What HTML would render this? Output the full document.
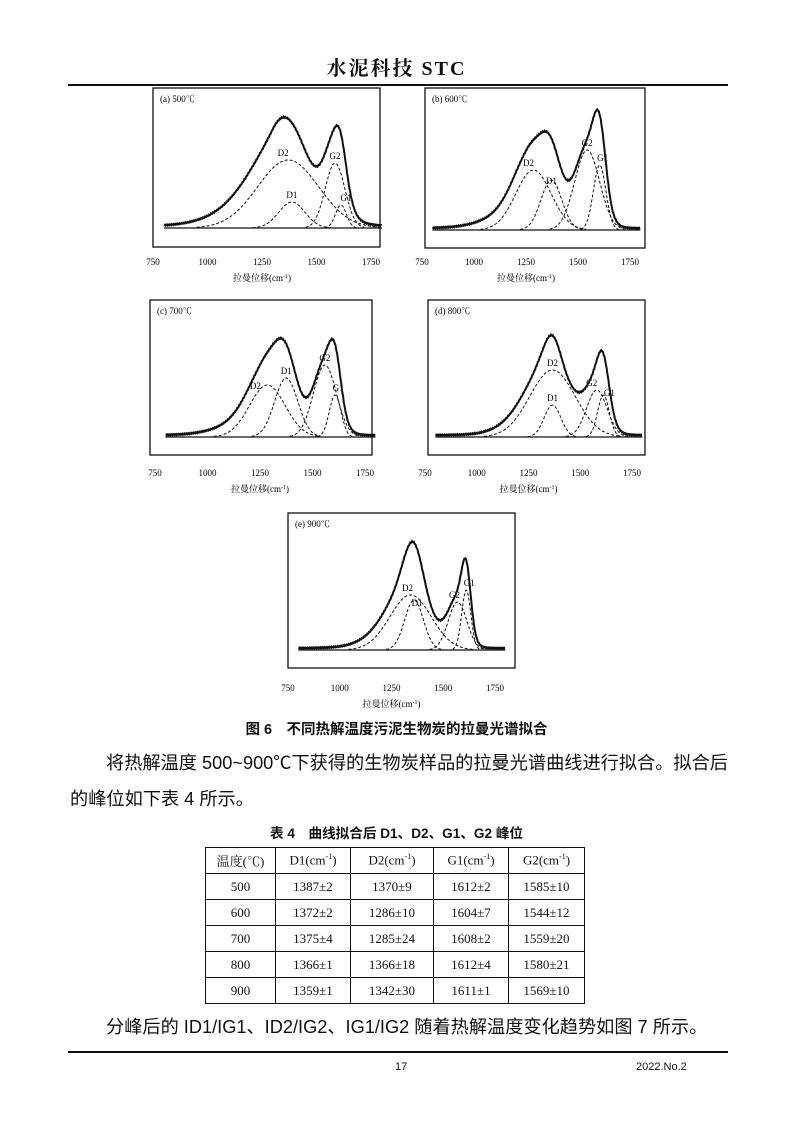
<!DOCTYPE html>
<html><head><meta charset="utf-8">
<style>
body{margin:0;background:#fff;}
#pg{position:relative;width:793px;height:1122px;overflow:hidden;font-family:"Liberation Serif","Noto Serif CJK SC",serif;color:#111}
.t{position:absolute;white-space:nowrap}
table{position:absolute;left:205px;top:847px;border-collapse:collapse;font-family:"Liberation Serif","Noto Serif CJK SC",serif;font-size:13px}
td{border:1.5px solid #111;text-align:center;height:25px;padding:0}
sup{font-size:8px}
</style></head><body><div id="pg">
<div class="t" style="left:0;width:793px;text-align:center;top:52px;font-size:20px;font-weight:bold;font-family:'Liberation Serif','Noto Serif CJK SC',serif;letter-spacing:2px">水泥科技 STC</div>
<div style="position:absolute;left:68px;top:84px;width:660px;height:2px;background:#111"></div>
<svg id="sv" width="793" height="720" style="position:absolute;left:0;top:0"></svg>
<div class="t" style="left:0;width:793px;text-align:center;top:718px;font-size:14.5px;font-weight:bold;font-family:'Liberation Sans','Noto Sans CJK SC',sans-serif">图 6　不同热解温度污泥生物炭的拉曼光谱拟合</div>
<div class="t" style="left:106px;top:749px;font-size:18.2px;font-family:'Liberation Sans','Noto Sans CJK SC',sans-serif">将热解温度 500~900℃下获得的生物炭样品的拉曼光谱曲线进行拟合。拟合后</div>
<div class="t" style="left:70px;top:785px;font-size:18.2px;font-family:'Liberation Sans','Noto Sans CJK SC',sans-serif">的峰位如下表 4 所示。</div>
<div class="t" style="left:0;width:793px;text-align:center;top:822px;font-size:13.6px;font-weight:bold;font-family:'Liberation Sans','Noto Sans CJK SC',sans-serif">表 4　曲线拟合后 D1、D2、G1、G2 峰位</div>
<table>
<tr><td style="width:69px">温度(℃)</td><td style="width:74px">D1(cm<sup>-1</sup>)</td><td style="width:82px">D2(cm<sup>-1</sup>)</td><td style="width:74px">G1(cm<sup>-1</sup>)</td><td style="width:75px">G2(cm<sup>-1</sup>)</td></tr>
<tr><td>500</td><td>1387±2</td><td>1370±9</td><td>1612±2</td><td>1585±10</td></tr>
<tr><td>600</td><td>1372±2</td><td>1286±10</td><td>1604±7</td><td>1544±12</td></tr>
<tr><td>700</td><td>1375±4</td><td>1285±24</td><td>1608±2</td><td>1559±20</td></tr>
<tr><td>800</td><td>1366±1</td><td>1366±18</td><td>1612±4</td><td>1580±21</td></tr>
<tr><td>900</td><td>1359±1</td><td>1342±30</td><td>1611±1</td><td>1569±10</td></tr>
</table>
<div class="t" style="left:106px;top:1013px;font-size:18.2px;font-family:'Liberation Sans','Noto Sans CJK SC',sans-serif">分峰后的 ID1/IG1、ID2/IG2、IG1/IG2 随着热解温度变化趋势如图 7 所示。</div>
<div style="position:absolute;left:68px;top:1051px;width:660px;height:2px;background:#111"></div>
<div class="t" style="left:395px;top:1061px;font-size:11px;font-family:'Liberation Sans',sans-serif">17</div>
<div class="t" style="left:636px;top:1061px;font-size:11px;font-family:'Liberation Sans',sans-serif">2022.No.2</div>
</div>
<script>
var sv=document.getElementById('sv'),h='';
function g(w,c,s,a){return a*Math.exp(-(w-c)*(w-c)/(2*s*s));}
function chart(o){
 var L=o.bx[0],T=o.bx[1],R=o.bx[2],B=o.bx[3];
 var sc=(o.x1-o.x0)/1000,X=function(w){return o.x0+(w-750)*sc;};
 h+='<rect x="'+L+'" y="'+T+'" width="'+(R-L)+'" height="'+(B-T)+'" fill="none" stroke="#111" stroke-width="1.3"/>';
 h+='<text x="'+(L+7)+'" y="'+(T+14)+'" font-size="9" font-family="Liberation Serif,Noto Serif CJK SC,serif">'+o.lab+'</text>';
 [750,1000,1250,1500,1750].forEach(function(w){h+='<text x="'+X(w)+'" y="'+o.ty+'" font-size="9" text-anchor="middle" font-family="Liberation Serif,serif">'+w+'</text>';});
 h+='<text x="'+X(1250)+'" y="'+(o.ty+16)+'" font-size="9" text-anchor="middle" font-family="Liberation Serif,Noto Serif CJK SC,serif">拉曼位移(cm<tspan font-size="6" dy="-3">-1</tspan><tspan dy="3">)</tspan></text>';
 h+='<line x1="'+X(800)+'" y1="'+o.by+'" x2="'+X(1800)+'" y2="'+o.by+'" stroke="#111" stroke-width="1.2"/>';
 o.p.forEach(function(p){
  var d='';for(var w=p[0]-3*p[1];w<=p[0]+3*p[1];w+=4){var y=o.by-g(w,p[0],p[1],p[2]);d+=(d?'L':'M')+X(w).toFixed(1)+' '+y.toFixed(1);}
  h+='<path d="'+d+'" fill="none" stroke="#111" stroke-width="1" stroke-dasharray="3,2"/>';
  h+='<text x="'+(X(p[0])+(p[4]||0))+'" y="'+(o.by-p[2]-4+(p[5]||0))+'" font-size="9" text-anchor="middle" font-family="Liberation Serif,serif">'+p[3]+'</text>';
 });
 var d='';
 for(var w=800;w<=1800;w+=3){var s=0;o.p.forEach(function(p){s+=g(w,p[0],p[1],p[2]);});s*=o.k;
  if(o.bg){var b=o.bg;s+=(w<b[0]?g(w,b[0],b[1],b[2]):g(w,b[0],60,b[2]));}
  s+=Math.sin(w*0.7)*0.6;var y=o.by-2-s;d+=(d?'L':'M')+X(w).toFixed(1)+' '+y.toFixed(1);}
 h+='<path d="'+d+'" fill="none" stroke="#111" stroke-width="2"/>';
}
chart({bx:[153,88,380,247],x0:153,x1:371,ty:265,by:228,lab:'(a) 500℃',k:1.0,bg:[1300,190,28],
 p:[[1370,140,68,'D2',-5],[1387,60,26,'D1'],[1585,45,65,'G2'],[1612,25,23,'G1',5]]});
chart({bx:[425,88,645,248],x0:422,x1:630,ty:265,by:230,lab:'(b) 600℃',k:1.0,bg:[1250,150,20],
 p:[[1286,85,60,'D2',-5],[1372,50,50,'D1',0,8],[1544,60,80,'G2'],[1604,30,65,'G1',3]]});
chart({bx:[150,300,372,455],x0:155,x1:365,ty:476,by:437,lab:'(c) 700℃',k:1.0,bg:[1250,150,18],
 p:[[1285,85,52,'D2',-12,8],[1375,55,59,'D1'],[1559,55,72,'G2'],[1608,28,42,'G1',3]]});
chart({bx:[428,300,645,455],x0:425,x1:632,ty:476,by:437,lab:'(d) 800℃',k:0.95,bg:[1280,130,15],
 p:[[1366,110,67,'D2'],[1366,40,32,'D1'],[1580,50,47,'G2',-5],[1612,28,42,'G1',6,5]]});
chart({bx:[288,513,515,668],x0:288,x1:495,ty:691,by:650,lab:'(e) 900℃',k:0.95,bg:[1280,130,15],
 p:[[1342,100,55,'D2',-3],[1359,45,50,'D1',3,10],[1569,45,48,'G2',-3],[1611,22,60,'G1',3]]});
sv.innerHTML=h;
</script>
</body></html>
